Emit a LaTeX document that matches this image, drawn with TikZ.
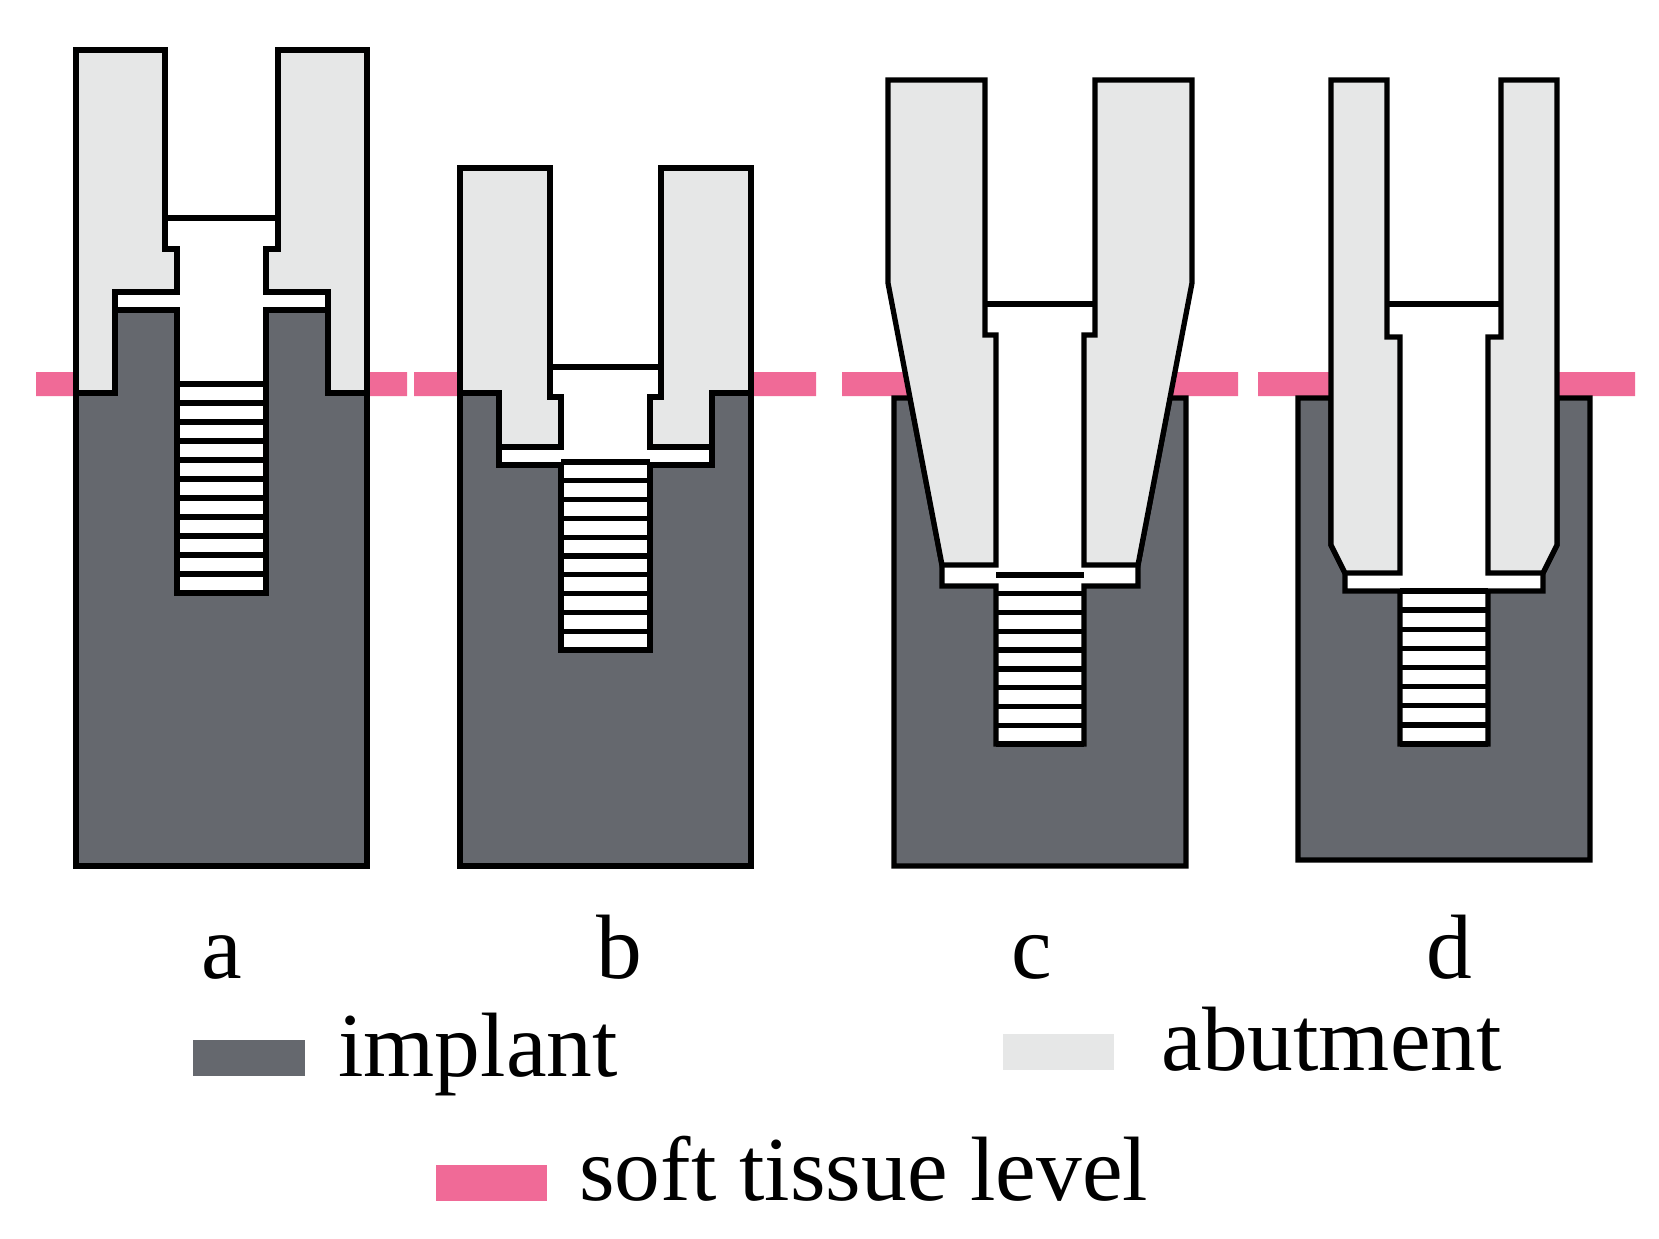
\documentclass[tikz,border=0pt]{standalone}
\usepackage{fontspec}
\setmainfont{Liberation Serif}
\definecolor{impl}{HTML}{65686E}
\definecolor{abut}{HTML}{E6E7E7}
\definecolor{soft}{HTML}{F06A97}
\begin{document}
\begin{tikzpicture}[x=0.01cm,y=-0.01cm,line join=miter,
  implant/.style={fill=impl,draw=black,line width=1.5pt},
  abutment/.style={fill=abut,draw=black,line width=1.5pt},
  edge/.style={draw=black,line width=1.5pt},
  tissue/.style={fill=soft},
  lbl/.style={font=\fontsize{26}{30}\selectfont,anchor=base}]
\useasboundingbox (0,0) rectangle (1659,1239);
% soft tissue level
\fill[tissue] (36,372) rectangle (76,396) (368,372) rectangle (407,396);
\fill[tissue] (414,372) rectangle (459,396) (753,372) rectangle (816,396);
\fill[tissue] (842,372) rectangle (911,396) (1169,372) rectangle (1238,396);
\fill[tissue] (1258,372) rectangle (1334,396) (1554,372) rectangle (1635,396);
% ---------- a
\path[implant] (76,393)--(115,393)--(115,310)--(177,310)--(177,593)--(266,593)--(266,310)--(328,310)--(328,393)--(367,393)--(367,866)--(76,866)--cycle;
\path[abutment] (76,50)--(165,50)--(165,249)--(177,249)--(177,292)--(115,292)--(115,393)--(76,393)--cycle;
\path[abutment] (367,50)--(278,50)--(278,249)--(266,249)--(266,292)--(328,292)--(328,393)--(367,393)--cycle;
\draw[edge] (165,218)--(278,218);
\foreach \i in {0,...,11}{\draw[line width=1.5pt] (177,{384+\i*209/11})--(266,{384+\i*209/11});}
% ---------- b
\path[implant] (460,393)--(499,393)--(499,465)--(561,465)--(561,650)--(650,650)--(650,465)--(712,465)--(712,393)--(751,393)--(751,866)--(460,866)--cycle;
\path[abutment] (460,168)--(550,168)--(550,397)--(561,397)--(561,447)--(499,447)--(499,393)--(460,393)--cycle;
\path[abutment] (751,168)--(661,168)--(661,397)--(650,397)--(650,447)--(712,447)--(712,393)--(751,393)--cycle;
\draw[edge] (550,367)--(661,367);
\foreach \i in {0,...,10}{\draw[line width=1.5pt] (561,{462+\i*188/10})--(650,{462+\i*188/10});}
% ---------- c
\path[implant] (894,398)--(910,398)--(942,565)--(942,586)--(996,586)--(996,744)--(1084,744)--(1084,586)--(1138,586)--(1138,565)--(1170,398)--(1186,398)--(1186,866)--(894,866)--cycle;
\path[abutment] (888,80)--(985,80)--(985,335)--(996,335)--(996,565)--(942,565)--(888,283)--cycle;
\path[abutment] (1192,80)--(1095,80)--(1095,335)--(1084,335)--(1084,565)--(1138,565)--(1192,283)--cycle;
\draw[edge] (985,304)--(1095,304);
\foreach \i in {0,...,9}{\draw[line width=1.5pt] (996,{575+\i*169/9})--(1084,{575+\i*169/9});}
% ---------- d
\path[implant] (1298,398)--(1331,398)--(1331,545)--(1345,573)--(1345,591)--(1400,591)--(1400,744)--(1488,744)--(1488,591)--(1543,591)--(1543,573)--(1557,545)--(1557,398)--(1590,398)--(1590,860)--(1298,860)--cycle;
\path[abutment] (1331,80)--(1387,80)--(1387,337)--(1400,337)--(1400,573)--(1345,573)--(1331,545)--cycle;
\path[abutment] (1557,80)--(1501,80)--(1501,337)--(1488,337)--(1488,573)--(1543,573)--(1557,545)--cycle;
\draw[edge] (1387,304)--(1501,304);
\foreach \i in {0,...,8}{\draw[line width=1.5pt] (1400,{591+\i*153/8})--(1488,{591+\i*153/8});}
% labels
\node[lbl] (la) at (222,978) {a};
\node[lbl] (lb) at (619,978) {b};
\node[lbl] (lc) at (1032,978) {c};
\node[lbl] (ld) at (1449,978) {d};
% legend
\fill[impl] (193,1040) rectangle (305,1076);
\node[lbl,anchor=base west] (li) at (326,1076) {implant};
\fill[abut] (1003,1034) rectangle (1114,1070);
\node[lbl,anchor=base west] (lab) at (1149,1070) {abutment};
\fill[soft] (436,1165) rectangle (547,1201);
\node[lbl,anchor=base west] (ls) at (567,1200) {soft tissue level};
\end{tikzpicture}
\end{document}
